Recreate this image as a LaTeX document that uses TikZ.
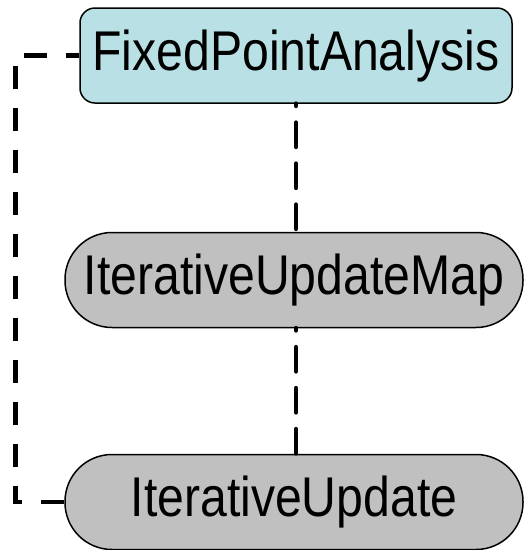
\documentclass[tikz,border=0pt]{standalone}
\usepackage{fontspec}
\newfontfamily\labelfont[FakeStretch=0.86]{Liberation Sans}
\usepackage{tikz}
\usetikzlibrary{calc}

\definecolor{paleblue}{RGB}{185,224,228}
\definecolor{palegray}{RGB}{192,192,192}

\begin{document}
\begin{tikzpicture}[x=1pt,y=1pt]
\tikzstyle{box}=[draw=black,line width=1.5pt,font=\labelfont\fontsize{56}{60}\selectfont,text height=41pt,text depth=12pt,inner sep=0pt]
\tikzstyle{analysis}=[box,fill=paleblue,rounded corners=15pt,minimum width=432pt,minimum height=95pt]
\tikzstyle{update}=[box,fill=palegray,rounded corners=47pt,minimum width=458pt,minimum height=95pt]
\tikzstyle{link}=[line width=4.8pt,dash pattern=on 23pt off 19pt,dash phase=10pt]
\tikzstyle{stem}=[line width=4.8pt,line cap=round,dash pattern=on 24pt off 17pt,dash phase=22pt]
\useasboundingbox (0,0) rectangle (525,-550);
\node[analysis] (fpa) at (296,-55.5) {FixedPointAnalysis};
\node[update] (ium) at (294,-280) {IterativeUpdateMap};
\node[update] (iu) at (294,-502) {IterativeUpdate};
\draw[stem] (fpa.south) -- (fpa.south |- ium.north);
\draw[stem] (fpa.south |- ium.south) -- (fpa.south |- iu.north);
\draw[link] (fpa.west) -- ++(-64,0) |- (iu.west);
\end{tikzpicture}
\end{document}
